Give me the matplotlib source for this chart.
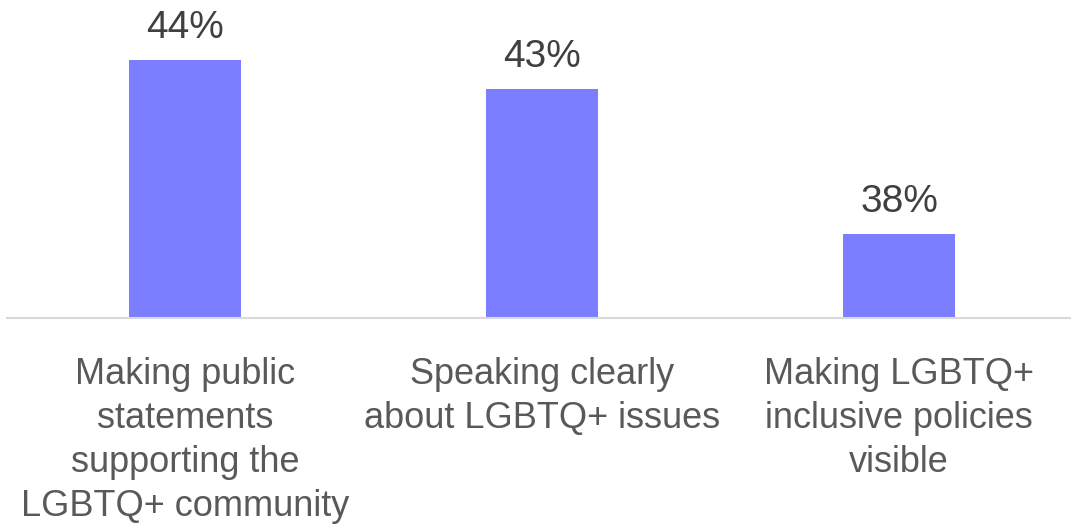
import matplotlib.pyplot as plt

categories = [
    "Making public\nstatements\nsupporting the\nLGBTQ+ community",
    "Speaking clearly\nabout LGBTQ+ issues",
    "Making LGBTQ+\ninclusive policies\nvisible",
]
values = [44, 43, 38]

plt.rcParams["font.family"] = ["Liberation Sans", "DejaVu Sans"]

fig = plt.figure(figsize=(10.71, 5.24), dpi=100)
ax = fig.add_axes([6.5 / 1071, 206 / 524, 1.0, 318 / 524])

x = range(len(values))
ax.bar(x, values, width=0.314, color="#7b7fff", zorder=2)
ax.set_xlim(-0.5, 2.5)
ax.set_ylim(35.1, 35.1 + 318 / 29)

for xi, v in zip(x, values):
    ax.annotate(f"{v}%", (xi, v), xytext=(0, 15.8), textcoords="offset points",
                ha="center", va="baseline", fontsize=28, color="#404040")

ax.set_xticks(list(x))
ax.set_xticklabels(categories, fontsize=26, color="#595959", linespacing=1.34)
ax.tick_params(axis="x", length=0, pad=28)
ax.set_yticks([])
for side in ["top", "right", "left"]:
    ax.spines[side].set_visible(False)
ax.spines["bottom"].set_color("#d9d9d9")
ax.spines["bottom"].set_linewidth(1.5)

fig.savefig("out.png", dpi=100)
